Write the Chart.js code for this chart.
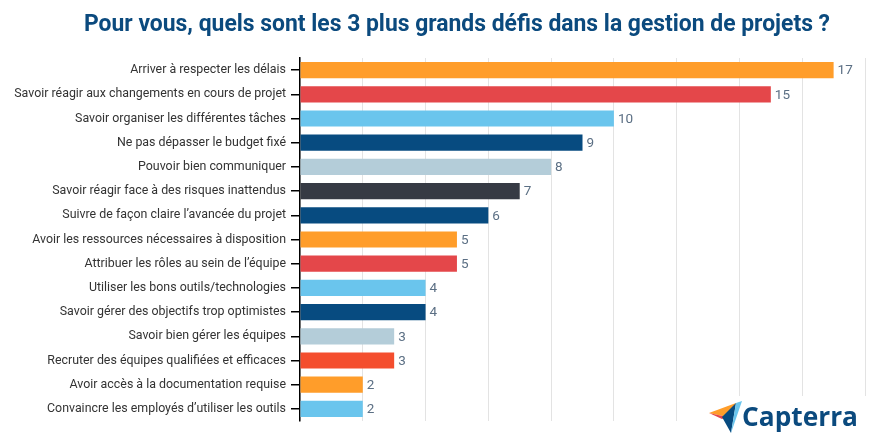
<!DOCTYPE html>
<html>
<head>
<meta charset="utf-8">
<script src="https://cdn.jsdelivr.net/npm/chart.js@4"></script>
<style>
html,body{margin:0;padding:0;background:#fff;}
#wrap{position:relative;width:880px;height:440px;}
</style>
</head>
<body>
<div id="wrap"><canvas id="c" width="880" height="440"></canvas></div>
<script>
const titleText = "Pour vous, quels sont les 3 plus grands défis dans la gestion de projets ?";
const categories = [
  "Arriver à respecter les délais",
  "Savoir réagir aux changements en cours de projet",
  "Savoir organiser les différentes tâches",
  "Ne pas dépasser le budget fixé",
  "Pouvoir bien communiquer",
  "Savoir réagir face à des risques inattendus",
  "Suivre de façon claire l’avancée du projet",
  "Avoir les ressources nécessaires à disposition",
  "Attribuer les rôles au sein de l’équipe",
  "Utiliser les bons outils/technologies",
  "Savoir gérer des objectifs trop optimistes",
  "Savoir bien gérer les équipes",
  "Recruter des équipes qualifiées et efficaces",
  "Avoir accès à la documentation requise",
  "Convaincre les employés d’utiliser les outils"
];
const values = [17, 15, 10, 9, 8, 7, 6, 5, 5, 4, 4, 3, 3, 2, 2];
const barColors = ["#FF9D2A","#E4474A","#6AC5ED","#074B80","#B4CDD9","#363A44","#074B80","#FF9D2A","#E4474A","#6AC5ED","#074B80","#B4CDD9","#F44E2E","#FF9D2A","#6AC5ED"];
const xTicks = [0, 2, 4, 6, 8, 10, 12, 14, 16, 18];
const logoText = "Capterra";

const valueLabels = {
  id: 'valueLabels',
  afterDatasetsDraw(chart) {
    const ctx = chart.ctx;
    const meta = chart.getDatasetMeta(0);
    ctx.save();
    ctx.font = '13.5px Roboto';
    ctx.fillStyle = '#5B6F84';
    ctx.textAlign = 'left';
    ctx.textBaseline = 'middle';
    meta.data.forEach((bar, i) => {
      ctx.fillText(String(values[i]), bar.x + 4, bar.y + 1);
    });
    ctx.restore();
  }
};

const titleAndLogo = {
  id: 'titleAndLogo',
  afterDraw(chart) {
    const ctx = chart.ctx;
    ctx.save();
    ctx.font = 'bold 24px Roboto';
    ctx.fillStyle = '#0B4A7E';
    ctx.textBaseline = 'alphabetic';
    const w = ctx.measureText(titleText).width;
    const target = 746;
    const sx = target / w;
    ctx.translate(84, 31);
    ctx.scale(sx, 1);
    ctx.fillText(titleText, 0, 0);
    ctx.restore();

    ctx.save();
    ctx.fillStyle = '#ffffff';
    ctx.fillRect(704, 396, 170, 44);
    ctx.beginPath(); ctx.moveTo(709,413); ctx.lineTo(736,403); ctx.lineTo(727,417); ctx.closePath();
    ctx.fillStyle = '#FF9D2A'; ctx.fill();
    ctx.beginPath(); ctx.moveTo(709,413); ctx.lineTo(727,417); ctx.lineTo(722,419); ctx.closePath();
    ctx.fillStyle = '#E4474A'; ctx.fill();
    ctx.beginPath(); ctx.moveTo(722,417); ctx.lineTo(736,403); ctx.lineTo(731,433); ctx.closePath();
    ctx.fillStyle = '#074B80'; ctx.fill();
    ctx.beginPath(); ctx.moveTo(736,403); ctx.lineTo(742,401); ctx.lineTo(731,433); ctx.closePath();
    ctx.fillStyle = '#6AC5ED'; ctx.fill();
    ctx.font = 'bold 27px "Open Sans"';
    ctx.fillStyle = '#0B4A7E';
    ctx.textBaseline = 'alphabetic';
    const lw = ctx.measureText(logoText).width;
    ctx.translate(742, 426);
    ctx.scale(116 / lw, 1);
    ctx.fillText(logoText, 0, 0);
    ctx.restore();
  }
};

new Chart(document.getElementById('c'), {
  type: 'bar',
  data: {
    labels: categories,
    datasets: [{
      data: values,
      backgroundColor: barColors,
      borderWidth: 0,
      categoryPercentage: 1,
      barPercentage: 0.67
    }]
  },
  options: {
    indexAxis: 'y',
    responsive: false,
    animation: false,
    events: [],
    layout: { padding: { top: 58, right: 15, bottom: 19, left: 0 } },
    plugins: { legend: { display: false }, tooltip: { enabled: false }, title: { display: false } },
    scales: {
      x: {
        min: 0, max: 18,
        afterBuildTicks(scale) { scale.ticks = xTicks.map(v => ({ value: v })); },
        ticks: { display: false },
        border: { display: false },
        grid: { color: '#E3E3E3', lineWidth: 1, drawTicks: false }
      },
      y: {
        afterFit(scale) { scale.width = 300; },
        border: { display: true, color: '#000', width: 1.5 },
        grid: { drawOnChartArea: false, offset: false, tickLength: 9, color: '#000', lineWidth: 1.5, drawTicks: true },
        ticks: { color: '#333', font: { family: 'Roboto', size: 12.4 }, padding: 5, autoSkip: false }
      }
    }
  },
  plugins: [valueLabels, titleAndLogo]
});
</script>
</body>
</html>
